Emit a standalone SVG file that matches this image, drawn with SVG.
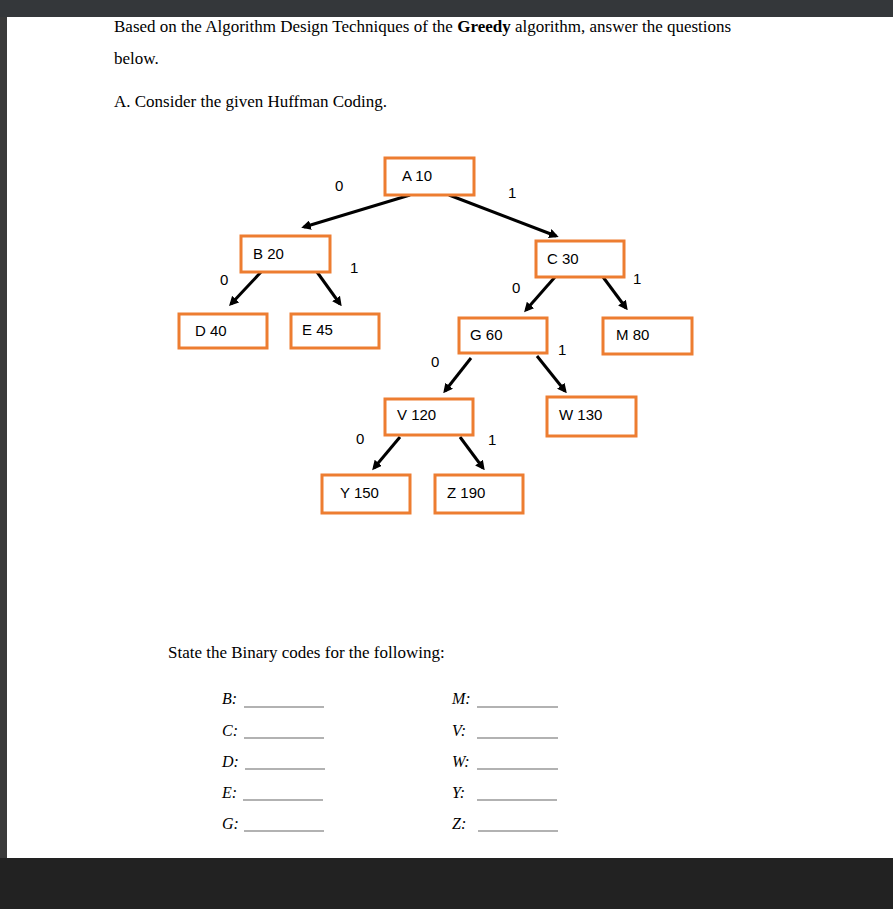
<svg xmlns="http://www.w3.org/2000/svg" width="893" height="909" viewBox="0 0 893 909">
<style>
.n rect{fill:#fff;stroke:#ED7D31;stroke-width:3}
.n text,.l{font-family:"Liberation Sans",Arial,sans-serif;font-size:15px;fill:#000}
.t{font-family:"Liberation Serif","Times New Roman",serif;font-size:17px;fill:#000}
.q{font-family:"Liberation Serif","Times New Roman",serif;font-size:16px;font-style:italic;fill:#000}
.c line{stroke:#000;stroke-width:3;marker-end:url(#ah)}
.u{stroke:#999;stroke-width:1.5}
</style>
<defs><marker id="ah" viewBox="0 0 10 10" refX="7" refY="5" markerWidth="3.2" markerHeight="3.2" orient="auto"><path d="M0,0L10,5L0,10z" fill="#000"/></marker></defs>
<rect width="893" height="909" fill="#fff"/>
<rect width="893" height="17" fill="#34373a"/>
<rect y="17" width="7" height="842" fill="#3a3a3a"/>
<rect y="858" width="893" height="51" fill="#222"/>
<text class="t" x="114" y="32">Based on the Algorithm Design Techniques of the <tspan font-weight="bold">Greedy</tspan> algorithm, answer the questions</text>
<text class="t" x="114" y="64">below.</text>
<text class="t" x="114" y="107">A.  Consider the given Huffman Coding.</text>
<g class="c">
<line x1="410" y1="195" x2="304" y2="227"/>
<line x1="449" y1="195" x2="556" y2="236"/>
<line x1="261" y1="272" x2="231" y2="304"/>
<line x1="317" y1="272" x2="340" y2="304"/>
<line x1="555" y1="277" x2="526" y2="310"/>
<line x1="603" y1="277" x2="626" y2="308"/>
<line x1="471" y1="358" x2="445" y2="391"/>
<line x1="537" y1="356" x2="565" y2="391"/>
<line x1="400" y1="437" x2="374" y2="468"/>
<line x1="460" y1="437" x2="483" y2="468"/>
</g>
<text class="l" x="335" y="191">0</text>
<text class="l" x="508" y="198">1</text>
<text class="l" x="350" y="273">1</text>
<text class="l" x="220" y="285">0</text>
<text class="l" x="512" y="293">0</text>
<text class="l" x="633" y="284">1</text>
<text class="l" x="558" y="355">1</text>
<text class="l" x="431" y="367">0</text>
<text class="l" x="356" y="444">0</text>
<text class="l" x="488" y="445">1</text>
<g class="n" id="A"><rect x="385" y="158" width="89" height="37"/><text x="402" y="181">A   10</text></g>
<g class="n" id="B"><rect x="241" y="236" width="89" height="36"/><text x="253" y="259">B    20</text></g>
<g class="n" id="C"><rect x="536" y="241" width="88" height="36"/><text x="547" y="264">C  30</text></g>
<g class="n" id="D"><rect x="179" y="314" width="88" height="34"/><text x="195" y="336">D    40</text></g>
<g class="n" id="E"><rect x="291" y="314" width="88" height="34"/><text x="302" y="335">E    45</text></g>
<g class="n" id="G"><rect x="459" y="318" width="88" height="35"/><text x="470" y="340">G    60</text></g>
<g class="n" id="M"><rect x="603" y="318" width="89" height="36"/><text x="616" y="340">M  80</text></g>
<g class="n" id="V"><rect x="385" y="399" width="88" height="36"/><text x="397" y="420">V  120</text></g>
<g class="n" id="W"><rect x="547" y="397" width="89" height="39"/><text x="559" y="420">W  130</text></g>
<g class="n" id="Y"><rect x="322" y="475" width="88" height="38"/><text x="340" y="498">Y  150</text></g>
<g class="n" id="Z"><rect x="435" y="475" width="88" height="38"/><text x="447" y="498">Z  190</text></g>
<text class="t" x="168" y="658">State the Binary codes for the following:</text>
<g class="q">
<text x="222" y="704">B:</text><text x="222" y="736">C:</text><text x="222" y="767">D:</text><text x="222" y="798">E:</text><text x="222" y="829">G:</text>
<text x="452" y="704">M:</text><text x="452" y="736">V:</text><text x="452" y="767">W:</text><text x="452" y="798">Y:</text><text x="452" y="829">Z:</text>
</g>
<g class="u">
<line x1="244" y1="707" x2="324" y2="707"/><line x1="244" y1="738" x2="324" y2="738"/><line x1="245" y1="769" x2="325" y2="769"/><line x1="243" y1="800" x2="323" y2="800"/><line x1="244" y1="831" x2="324" y2="831"/>
<line x1="477" y1="707" x2="558" y2="707"/><line x1="477" y1="738" x2="558" y2="738"/><line x1="477" y1="769" x2="558" y2="769"/><line x1="477" y1="800" x2="557" y2="800"/><line x1="478" y1="831" x2="558" y2="831"/>
</g>
</svg>
